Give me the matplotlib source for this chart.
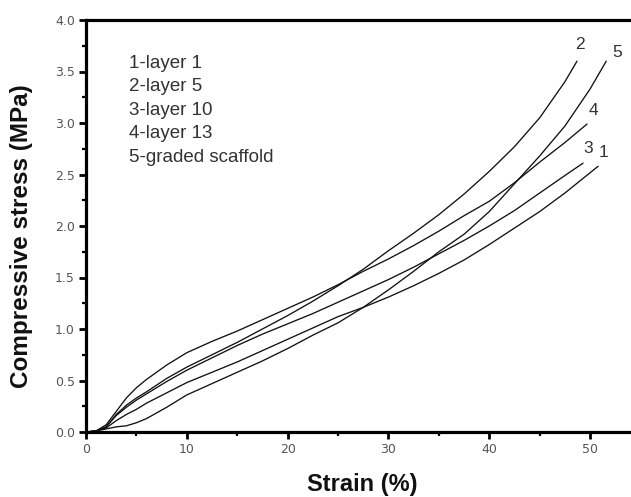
import matplotlib
matplotlib.use("Agg")
import matplotlib.pyplot as plt
from matplotlib.ticker import MultipleLocator

# Strain (%) sample positions and stresses (MPa)
strain_1 = [0, 1, 2, 3, 4, 5, 6, 8, 10, 12.5, 15, 17.5, 20, 22.5, 25, 27.5, 30, 32.5, 35, 37.5, 40, 42.5, 45, 47.5, 50.8]
stress_1 = [0, 0.01, 0.04, 0.11, 0.17, 0.22, 0.28, 0.38, 0.48, 0.58, 0.68, 0.79, 0.90, 1.01, 1.12, 1.21, 1.31, 1.42, 1.54, 1.67, 1.82, 1.98, 2.14, 2.32, 2.58]

strain_2 = [0, 1, 2, 3, 4, 5, 6, 8, 10, 12.5, 15, 17.5, 20, 22.5, 25, 27.5, 30, 32.5, 35, 37.5, 40, 42.5, 45, 47.5, 48.7]
stress_2 = [0, 0.01, 0.05, 0.17, 0.26, 0.33, 0.39, 0.52, 0.63, 0.75, 0.87, 1.00, 1.13, 1.27, 1.42, 1.58, 1.76, 1.93, 2.11, 2.31, 2.53, 2.77, 3.05, 3.40, 3.60]

strain_3 = [0, 1, 2, 3, 4, 5, 6, 8, 10, 12.5, 15, 17.5, 20, 22.5, 25, 27.5, 30, 32.5, 35, 37.5, 40, 42.5, 45, 47.5, 49.3]
stress_3 = [0, 0.01, 0.05, 0.16, 0.24, 0.31, 0.37, 0.49, 0.60, 0.72, 0.84, 0.95, 1.05, 1.15, 1.26, 1.37, 1.48, 1.60, 1.73, 1.86, 2.00, 2.15, 2.32, 2.49, 2.61]

strain_4 = [0, 1, 2, 3, 4, 5, 6, 8, 10, 12.5, 15, 17.5, 20, 22.5, 25, 27.5, 30, 32.5, 35, 37.5, 40, 42.5, 45, 47.5, 49.7]
stress_4 = [0, 0.01, 0.07, 0.20, 0.33, 0.43, 0.51, 0.65, 0.77, 0.88, 0.98, 1.09, 1.20, 1.31, 1.43, 1.56, 1.68, 1.81, 1.95, 2.10, 2.24, 2.42, 2.62, 2.81, 2.99]

strain_5 = [0, 1, 2, 3, 4, 5, 6, 8, 10, 12.5, 15, 17.5, 20, 22.5, 25, 27.5, 30, 32.5, 35, 37.5, 40, 42.5, 45, 47.5, 50, 51.6]
stress_5 = [0, 0.01, 0.03, 0.05, 0.06, 0.09, 0.13, 0.24, 0.36, 0.47, 0.58, 0.69, 0.81, 0.94, 1.06, 1.21, 1.38, 1.56, 1.75, 1.92, 2.14, 2.41, 2.68, 2.97, 3.33, 3.60]

curve_labels = ["1", "2", "3", "4", "5"]
legend_lines = ["1-layer 1", "2-layer 5", "3-layer 10", "4-layer 13", "5-graded scaffold"]
x_ticks = [0, 10, 20, 30, 40, 50]
y_ticks = [0.0, 0.5, 1.0, 1.5, 2.0, 2.5, 3.0, 3.5, 4.0]

W, H = 631, 497
fig = plt.figure(figsize=(W / 100, H / 100), dpi=100)
ax = fig.add_axes([86 / W, (H - 432) / H, (W - 86) / W, (432 - 20) / H])

series = [(strain_1, stress_1), (strain_2, stress_2), (strain_3, stress_3),
          (strain_4, stress_4), (strain_5, stress_5)]
offsets = [(5, 14), (3, 17), (5, 15), (6, 14), (11, 9)]
for (xs, ys), lab, off in zip(series, curve_labels, offsets):
    ax.plot(xs, ys, color="#111111", lw=0.95, solid_capstyle="round")
    ax.annotate(lab, xy=(xs[-1], ys[-1]), xytext=off, textcoords="offset pixels",
                ha="center", va="center", fontsize=12.5, color="#333333",
                family="Liberation Sans")

ax.set_xlim(0, (W - 85) / 10.1)
ax.set_ylim(0, 4.0)
ax.set_xticks(x_ticks)
ax.set_yticks(y_ticks)
ax.xaxis.set_minor_locator(MultipleLocator(5))
ax.yaxis.set_minor_locator(MultipleLocator(0.25))
ax.set_xticklabels([str(t) for t in x_ticks])
ax.set_yticklabels([f"{t:.1f}" for t in y_ticks])

for s in ["left", "bottom", "top"]:
    ax.spines[s].set_linewidth(2.3)
    ax.spines[s].set_color("#000000")
ax.spines["right"].set_visible(False)

ax.tick_params(which="major", direction="out", length=5, width=2, color="#000000",
               labelsize=9, labelcolor="#555555", pad=3)
ax.tick_params(which="minor", direction="out", length=3, width=1.6, color="#000000")
ax.tick_params(top=False, right=False)
for lbl in ax.get_xticklabels() + ax.get_yticklabels():
    lbl.set_family("DejaVu Sans")

for i, line in enumerate(legend_lines):
    fig.text(129 / W, 1 - (63 + 23.6 * i) / H, line, ha="left", va="center",
             fontsize=13.5, color="#333333", family="Liberation Sans")

fig.text(22 / W, 1 - 236 / H, "Compressive stress (MPa)", rotation=90,
         ha="center", va="center", fontsize=17.5, fontweight="bold",
         family="Liberation Sans", color="#111111")
fig.text(362 / W, 1 - 485 / H, "Strain (%)", ha="center", va="center",
         fontsize=17, fontweight="bold", family="Liberation Sans", color="#111111")

fig.savefig("out.png", dpi=100, facecolor="white")
